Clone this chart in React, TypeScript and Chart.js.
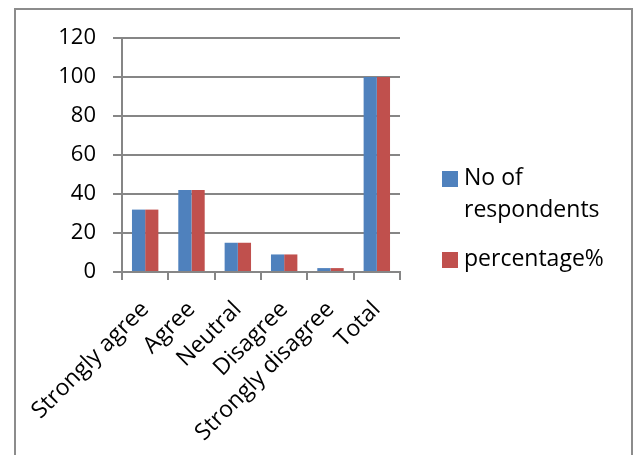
import React, { useEffect, useRef } from "react";
import { Chart, registerables } from "chart.js";

Chart.register(...registerables);

const categories = ["Strongly agree", "Agree", "Neutral", "Disagree", "Strongly disagree", "Total"];
const noOfRespondents = [32, 42, 15, 9, 2, 100];
const percentage = [32, 42, 15, 9, 2, 100];
const seriesNames = ["No of respondents", "percentage%"];
const seriesColors = ["#4F81BD", "#C0504D"];
const yMax = 120;
const yStep = 20;

const FONT = "'Open Sans', 'Noto Sans', sans-serif";
const AXIS = "#868686";

export default function App() {
  const canvasRef = useRef<HTMLCanvasElement | null>(null);

  useEffect(() => {
    const ctx = canvasRef.current;
    if (!ctx) return;
    const chart = new Chart(ctx, {
      type: "bar",
      data: {
        labels: categories,
        datasets: [
          { label: seriesNames[0], data: noOfRespondents, backgroundColor: seriesColors[0] },
          { label: seriesNames[1], data: percentage, backgroundColor: seriesColors[1] },
        ],
      },
      options: {
        responsive: false,
        animation: false,
        devicePixelRatio: 1,
        layout: { padding: { left: 0, right: 236, top: 38, bottom: 0 } },
        datasets: { bar: { categoryPercentage: 0.57, barPercentage: 1 } },
        plugins: { legend: { display: false }, tooltip: { enabled: false } },
        scales: {
          x: {
            afterFit: (s: any) => { s.height = 183; },
            grid: { drawOnChartArea: false, drawTicks: true, tickLength: 8, color: AXIS, lineWidth: 2, offset: true },
            border: { display: true, color: AXIS, width: 2 },
            ticks: {
              color: "#000",
              font: { family: FONT, size: 23 },
              maxRotation: 45,
              minRotation: 45,
              autoSkip: false,
              padding: 16,
            },
          },
          y: {
            min: 0,
            max: yMax,
            afterFit: (s: any) => { s.width = 122; },
            grid: { color: AXIS, lineWidth: 2, drawTicks: true, tickLength: 9 },
            border: { display: true, color: AXIS, width: 2 },
            ticks: {
              stepSize: yStep,
              color: "#000",
              font: { family: FONT, size: 22 },
              padding: 17,
            },
          },
        },
      },
    });
    return () => chart.destroy();
  }, []);

  const legendText: React.CSSProperties = {
    position: "absolute",
    left: 464,
    fontFamily: FONT,
    fontSize: 23,
    lineHeight: "32px",
    color: "#000",
    whiteSpace: "nowrap",
  };
  const square = (color: string, top: number): React.CSSProperties => ({
    position: "absolute",
    left: 442,
    top,
    width: 16,
    height: 16,
    background: color,
  });

  return (
    <div style={{ position: "fixed", left: 0, top: 0, width: 636, height: 455, overflow: "hidden", background: "#fff" }}>
      <div
        style={{
          position: "absolute",
          left: 14,
          top: 8,
          width: 619,
          height: 520,
          boxSizing: "border-box",
          border: "2px solid #8c8c8c",
        }}
      />
      <canvas ref={canvasRef} width={636} height={455} style={{ position: "absolute", left: 0, top: 0 }} />
      <div style={square(seriesColors[0], 171)} />
      <div style={{ ...legendText, top: 160 }}>
        No of
        <br />
        respondents
      </div>
      <div style={square(seriesColors[1], 252)} />
      <div style={{ ...legendText, top: 241 }}>{seriesNames[1]}</div>
    </div>
  );
}
